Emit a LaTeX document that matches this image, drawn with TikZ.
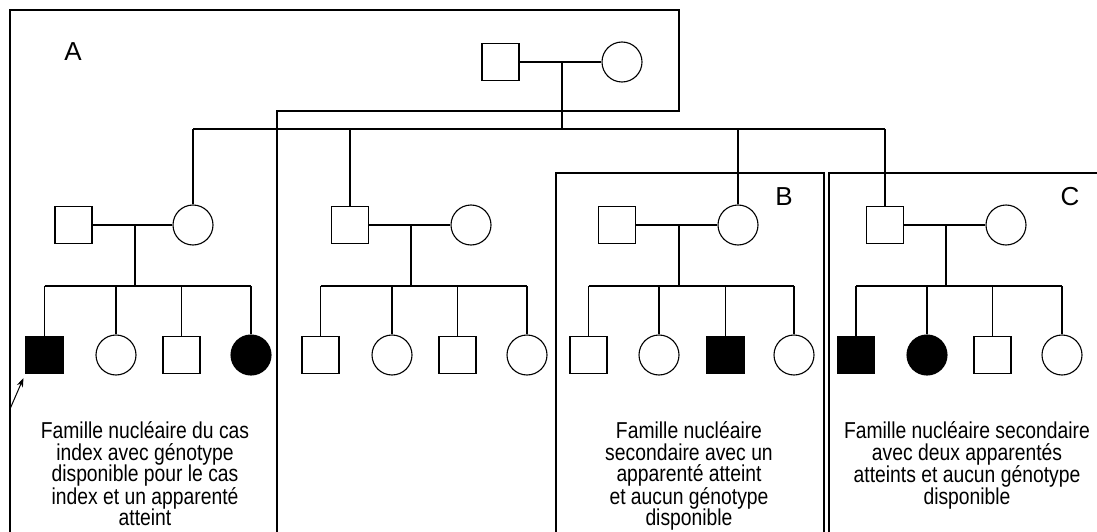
\documentclass[tikz,border=0pt]{standalone}
\usepackage{fontspec}
\setmainfont{Liberation Sans}
\newfontfamily\captfont{Liberation Sans}[FakeStretch=0.84]
\usetikzlibrary{arrows.meta}
\begin{document}
\begin{tikzpicture}[x=1pt,y=-1pt,line width=1.1pt,
  male/.style={draw,rectangle,minimum size=37pt,inner sep=0pt},
  female/.style={draw,circle,minimum size=40pt,inner sep=0pt},
  aff/.style={fill=black},
  caption/.style={align=center,font=\captfont\fontsize{23}{21.6}\selectfont,inner sep=0pt,anchor=north},
  letter/.style={font=\fontsize{26}{30}\selectfont,inner sep=0pt}]
\useasboundingbox (0,0) rectangle (1097,532);
% frames
\draw (10,532) -- (10,10) -- (679,10) -- (679,111) -- (277,111) -- (277,532);
\draw (556,532) -- (556,173) -- (824,173) -- (824,532);
\draw (829,532) -- (829,173) -- (1098,173);
\node[letter] (la) at (73,52) {A};
\node[letter] (lb) at (784,197) {B};
\node[letter] (lc) at (1070,197) {C};
% generation 1
\node[male] (gm) at (500.5,62) {};
\node[female] (gf) at (622,62) {};
\coordinate (gmid) at (562,62);
\coordinate (gsib) at (562,129);
% generation 2
\node[male] (am) at (73.5,225) {};
\node[female] (af) at (193,225) {};
\node[male] (fm) at (350,225) {};
\node[female] (ff) at (471,225) {};
\node[male] (bm) at (617,225) {};
\node[female] (bf) at (738,225) {};
\node[male] (cm) at (885,225) {};
\node[female] (cf) at (1006,225) {};
\coordinate (amid) at (135,225); \coordinate (asib) at (135,286);
\coordinate (fmid) at (411,225); \coordinate (fsib) at (411,286);
\coordinate (bmid) at (679,225); \coordinate (bsib) at (679,286);
\coordinate (cmid) at (946,225); \coordinate (csib) at (946,286);
% generation 3
\node[male,aff] (a1) at (44.5,355) {};
\node[female] (a2) at (116,355) {};
\node[male] (a3) at (181.5,355) {};
\node[female,aff] (a4) at (251,355) {};
\node[male] (f1) at (320.5,355) {};
\node[female] (f2) at (392,355) {};
\node[male] (f3) at (457.5,355) {};
\node[female] (f4) at (527,355) {};
\node[male] (b1) at (588.5,355) {};
\node[female] (b2) at (659,355) {};
\node[male,aff] (b3) at (725.5,355) {};
\node[female] (b4) at (794,355) {};
\node[male,aff] (c1) at (856,355) {};
\node[female,aff] (c2) at (927,355) {};
\node[male] (c3) at (992.5,355) {};
\node[female] (c4) at (1062,355) {};
% connectors gen 1
\draw (gm.east) -- (gf.west);
\draw (gmid) -- (gsib);
\draw (af.north |- gsib) -- (cm.north |- gsib);
\foreach \n in {af,fm,bf,cm} \draw (\n.north |- gsib) -- (\n.north);
% families
\foreach \f in {a,f,b,c} {
  \draw (\f m.east) -- (\f f.west);
  \draw (\f mid) -- (\f sib);
  \draw (\f 1.north |- \f sib) -- (\f 4.north |- \f sib);
  \foreach \k in {1,2,3,4} \draw (\f\k.north |- \f sib) -- (\f\k.north);
}
% proband arrow
\coordinate (arr) at (10,409);
\draw[-{Stealth[length=9pt,width=6.5pt]},line width=1pt] (arr) -- ([shift={(-2,4)}]a1.south west);
% captions
\node[caption] (ta) at (145,421) {Famille nucléaire du cas\\index avec génotype\\disponible pour le cas\\index et un apparenté\\atteint};
\node[caption] (tb) at (689,421) {Famille nucléaire\\secondaire avec un\\apparenté atteint\\et aucun génotype\\disponible};
\node[caption] (tc) at (967,421) {Famille nucléaire secondaire\\avec deux apparentés\\atteints et aucun génotype\\disponible};
\end{tikzpicture}
\end{document}
